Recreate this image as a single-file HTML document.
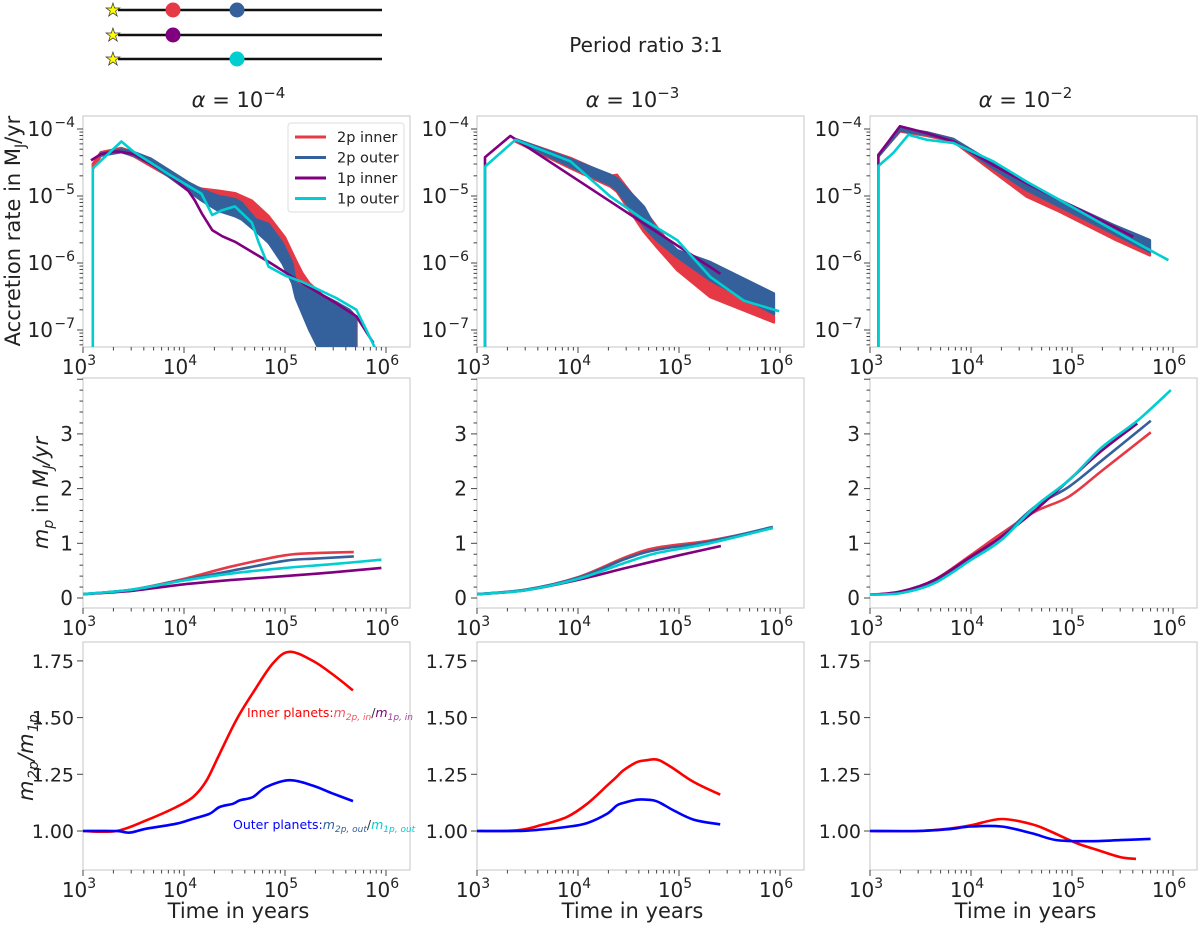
<!DOCTYPE html>
<html><head><meta charset="utf-8"><style>
html,body{margin:0;padding:0;background:#fff;}
svg{display:block;font-family:"DejaVu Sans","Liberation Sans",sans-serif;}
</style></head><body>
<svg id="fig" width="1200" height="925" viewBox="0 0 1200 925" xmlns="http://www.w3.org/2000/svg">
<g>
<line x1="118" y1="10" x2="382" y2="10" stroke="#111" stroke-width="2.5"/>
<line x1="118" y1="35" x2="382" y2="35" stroke="#111" stroke-width="2.5"/>
<line x1="118" y1="59" x2="382" y2="59" stroke="#111" stroke-width="2.5"/>
<text x="113" y="16" font-size="18" text-anchor="middle" fill="#ff0" stroke="#333" stroke-width="0.7">★</text>
<text x="113" y="41" font-size="18" text-anchor="middle" fill="#ff0" stroke="#333" stroke-width="0.7">★</text>
<text x="113" y="65" font-size="18" text-anchor="middle" fill="#ff0" stroke="#333" stroke-width="0.7">★</text>
<circle cx="173" cy="10" r="7.5" fill="#e63946"/>
<circle cx="237" cy="10" r="7.5" fill="#34619b"/>
<circle cx="173" cy="35" r="7.5" fill="#800080"/>
<circle cx="237" cy="59" r="7.5" fill="#00ced1"/>
</g>
<text x="646" y="52" font-size="20" text-anchor="middle" fill="#222">Period ratio 3:1</text>
<g transform="translate(33,756) rotate(-90)" fill="#222" font-style="italic">
<text x="-45" y="0" font-size="21">m</text>
<text x="-23" y="5" font-size="14">2p</text>
<text x="-5" y="0" font-size="21">/m</text>
<text x="24" y="5" font-size="14">1p</text>
</g>
</svg>
<script>
// ---- data: row 1 accretion rate (M_J/yr) ----
const a4PurpleT=[1200,1500,2000,2300,3200,6900,11000,12800,15000,19000,24000,32000,69000,149000,321000,509000,750000];
const a4PurpleV=[3.4e-5,4.2e-5,4.6e-5,4.6e-5,4.2e-5,2.15e-5,1.2e-5,8.6e-6,5.5e-6,3.1e-6,2.5e-6,2.07e-6,1.04e-6,5e-7,2.5e-7,1.6e-7,6.4e-8];
const a4CyanT=[1250,1250,2400,3210,6920,14900,19000,23600,32000,47000,55000,69000,100000,149000,321000,509000,800000];
const a4CyanV=[4e-8,2.6e-5,6.5e-5,4.5e-5,2.15e-5,1.08e-5,5.2e-6,6.1e-6,7e-6,4e-6,2e-6,8.8e-7,6.5e-7,5.2e-7,3e-7,2e-7,5e-8];
const a4RedT=[1250,1500,2400,3200,6900,11000,15000,22000,32000,47000,69000,100000,128000,149000,174000,236000,320000,510000];
const a4RedHi=[3e-5,4.5e-5,5.2e-5,4.5e-5,2.4e-5,1.5e-5,1.28e-5,1.2e-5,1.1e-5,8.5e-6,5e-6,2.4e-6,1.1e-6,7e-7,5e-7,3.3e-7,2.5e-7,1.5e-7];
const a4RedLo=[2.5e-5,4e-5,4.6e-5,3.9e-5,2e-5,1.2e-5,9e-6,7e-6,6e-6,4e-6,2e-6,1e-6,5e-7,4e-7,2e-7,1.2e-7,6e-8,4e-8];
const a4BlueT=[1500,2400,3200,4700,6900,11000,15000,22000,32000,37000,51000,69000,94000,118000,128000,174000,236000,321000,436000,500000];
const a4BlueHi=[4.3e-5,5e-5,4.5e-5,3.6e-5,2.5e-5,1.6e-5,1.25e-5,1e-5,9e-6,8e-6,4.5e-6,3.8e-6,2e-6,1e-6,5e-7,4e-7,3.3e-7,2.6e-7,2e-7,1.6e-7];
const a4BlueLo=[4e-5,4.5e-5,4e-5,3e-5,2e-5,1.2e-5,8.5e-6,6e-6,5e-6,4.5e-6,3e-6,2e-6,1e-6,5e-7,3e-7,1e-7,4e-8,4e-8,4e-8,4e-8];

const a3PurpleT=[1200,1200,2140,257000];
const a3PurpleV=[4e-8,3.8e-5,7.9e-5,6.9e-7];
const a3CyanT=[1200,1200,2400,8400,21000,45000,96000,204000,437000,980000];
const a3CyanV=[4e-8,2.75e-5,6.9e-5,3.3e-5,9.8e-6,4.4e-6,2.2e-6,6.2e-7,2.75e-7,1.9e-7];
const a3BandT=[2400,8400,21000,24300,45000,60000,96000,204000,870000];
const a3BlueHi=[7.1e-5,3.55e-5,2.07e-5,1.84e-5,6.9e-6,3.1e-6,1.55e-6,1.03e-6,3.5e-7];
const a3BlueLo=[6.8e-5,2.75e-5,1.46e-5,1.23e-5,3.5e-6,2.2e-6,1.23e-6,5.5e-7,1.74e-7];
const a3RedHi=[7.1e-5,3.7e-5,2.0e-5,2.07e-5,6.2e-6,3.5e-6,1.4e-6,6.1e-7,2.07e-7];
const a3RedLo=[6.5e-5,2.6e-5,1.38e-5,1.16e-5,2.9e-6,1.74e-6,7.8e-7,3.1e-7,1.3e-7];

const a2PurpleT=[1210,1210,1980,3640,6680,16600,35500,76000,257000,404000];
const a2PurpleV=[4e-8,4.1e-5,1.1e-4,8.7e-5,6.5e-5,2.9e-5,1.55e-5,8.7e-6,3.5e-6,2.45e-6];
const a2CyanT=[1210,1210,1700,2400,3640,6680,16600,35500,76000,257000,900000];
const a2CyanV=[4e-8,2.8e-5,4.4e-5,8.2e-5,6.9e-5,6.2e-5,3.3e-5,1.64e-5,8.7e-6,3.1e-6,1.1e-6];
const a2BandT=[1210,1980,3640,6680,16600,35500,76000,257000,590000];
const a2RedHi=[4.1e-5,1.03e-4,8.9e-5,7.1e-5,2.75e-5,1.3e-5,6.9e-6,2.75e-6,1.64e-6];
const a2RedLo=[3.9e-5,9.2e-5,7.9e-5,6.5e-5,2.3e-5,9.8e-6,5.8e-6,2.3e-6,1.3e-6];
const a2BlueHi=[4.1e-5,1.03e-4,8.9e-5,7.1e-5,3.1e-5,1.46e-5,8.7e-6,3.7e-6,2.2e-6];
const a2BlueLo=[3.9e-5,9.5e-5,8.2e-5,6.7e-5,2.6e-5,1.23e-5,6.9e-6,2.75e-6,1.46e-6];

// ---- data: row 2 planet mass ----
const m4T=[1000,3000,10000,30000,100000,200000,480000];
const m4Red=[0.07,0.15,0.35,0.58,0.78,0.82,0.84];
const m4Blue=[0.07,0.15,0.33,0.5,0.68,0.72,0.76];
const m4T1=[1000,3000,10000,30000,100000,300000,900000];
const m4Cyan=[0.07,0.15,0.32,0.45,0.55,0.62,0.7];
const m4Purple=[0.07,0.13,0.25,0.33,0.4,0.47,0.55];
const m3T=[1000,3000,10000,30000,60000,200000,850000];
const m3Red=[0.07,0.15,0.38,0.75,0.92,1.05,1.28];
const m3Blue=[0.07,0.15,0.37,0.72,0.88,1.03,1.3];
const m3Cyan=[0.07,0.14,0.35,0.65,0.82,1.0,1.28];
const m3PurpleT=[1000,3000,10000,30000,100000,260000];
const m3Purple=[0.07,0.14,0.33,0.55,0.78,0.95];
const m2CyanT=[1000,2020,4340,10060,20000,43000,92500,199000,443000,953000];
const m2Cyan=[0.06,0.09,0.27,0.7,1.06,1.67,2.15,2.76,3.24,3.8];
const m2PurpleT=[1000,2020,4340,10060,20000,43000,92500,199000,443000];
const m2Purple=[0.06,0.12,0.33,0.76,1.12,1.6,2.15,2.7,3.19];
const m2T=[1000,2020,4340,10060,20000,43000,92500,199000,603000];
const m2Blue=[0.06,0.11,0.31,0.74,1.12,1.67,2.03,2.52,3.24];
const m2Red=[0.06,0.11,0.33,0.79,1.18,1.58,1.85,2.33,3.03];

// ---- data: row 3 mass ratio ----
const r4RedT=[1000,2140,4240,8400,12300,16600,22500,33000,48200,76000,111000,189000,298000,471000];
const r4Red=[1.0,1.0,1.047,1.106,1.15,1.22,1.34,1.49,1.61,1.74,1.79,1.75,1.69,1.62];
const r4BlueT=[1000,2140,2900,4240,8400,12300,17900,22500,30500,35600,48200,65300,111000,189000,298000,471000];
const r4Blue=[1.0,1.0,0.993,1.01,1.032,1.054,1.076,1.106,1.12,1.135,1.15,1.194,1.224,1.2,1.165,1.132];
const r3T=[1000,2490,4240,7780,12300,19400,24300,28300,38400,48200,56100,65300,88500,140000,256000];
const r3Red=[1.0,1.003,1.025,1.062,1.12,1.2,1.24,1.268,1.304,1.312,1.316,1.31,1.275,1.216,1.16];
const r3Blue=[1.0,1.0,1.006,1.018,1.035,1.076,1.113,1.124,1.138,1.138,1.135,1.124,1.091,1.05,1.029];
const r2RedT=[1000,3000,6000,10000,20000,40000,60000,110000,180000,300000,430000];
const r2Red=[1.0,1.0,1.01,1.025,1.053,1.03,1.0,0.947,0.916,0.885,0.877];
const r2BlueT=[1000,3000,6000,10000,20000,40000,70000,150000,300000,600000];
const r2Blue=[1.0,1.0,1.008,1.02,1.02,0.99,0.96,0.955,0.96,0.965];

const COLS=[83,477,870], PW=327, DEC=101;
const ROWS=[{top:116,h:231},{top:378,h:230},{top:642,h:228}];
const C={red:'#e63946',blue:'#34619b',purple:'#800080',cyan:'#00ced1',r3red:'#ff0000',r3blue:'#0000ff'};
const NS='http://www.w3.org/2000/svg';
const svg=document.getElementById('fig');
function mk(tag,attrs,parent){const e=document.createElementNS(NS,tag);for(const k in attrs)e.setAttribute(k,attrs[k]);(parent||svg).appendChild(e);return e;}
function xs(c,t){return COLS[c]+(Math.log10(t)-3)*DEC;}
function yr(r,v){if(r===0)return 129+(-4-Math.log10(v))*67;if(r===1)return 598-v*54.7;return 831-(v-1)*226.8;}
function pts(c,r,T,V){return T.map((t,i)=>xs(c,t).toFixed(1)+','+yr(r,V[i]).toFixed(1)).join(' ');}
function smooth(c,r,T,V){const P=T.map((t,i)=>[xs(c,t),yr(r,V[i])]);let d='M'+P[0][0].toFixed(1)+','+P[0][1].toFixed(1);
  if(r===0){for(let i=1;i<P.length;i++)d+=' L'+P[i][0].toFixed(1)+','+P[i][1].toFixed(1);return d;}
  for(let i=0;i<P.length-1;i++){const p0=P[i>0?i-1:i],p1=P[i],p2=P[i+1],p3=P[i+2<P.length?i+2:i+1];
    const c1=[p1[0]+(p2[0]-p0[0])/6,p1[1]+(p2[1]-p0[1])/6],c2=[p2[0]-(p3[0]-p1[0])/6,p2[1]-(p3[1]-p1[1])/6];
    d+=' C'+c1[0].toFixed(1)+','+c1[1].toFixed(1)+' '+c2[0].toFixed(1)+','+c2[1].toFixed(1)+' '+p2[0].toFixed(1)+','+p2[1].toFixed(1);}
  return d;}

const panels={};
for(let r=0;r<3;r++)for(let c=0;c<3;c++){
  const g=mk('g',{});
  
  
  const x0=COLS[c],y0=ROWS[r].top,h=ROWS[r].h;
  const cp=mk('clipPath',{id:'cp'+r+c},g);
  mk('rect',{x:x0,y:y0,width:PW,height:h},cp);
  const fr=mk('rect',{x:x0,y:y0,width:PW,height:h,fill:'#fff',stroke:'#cfcfcf','stroke-width':1.2},g);
  
  
  const plot=mk('g',{'clip-path':'url(#cp'+r+c+')'},g);
  
  
  panels[r+''+c]=plot;
  const yb=y0+h;
  for(let d=3;d<=6;d++){for(let m=1;m<10;m++){const t=m*Math.pow(10,d);const lx=Math.log10(t);if(lx>3+PW/DEC)break;const x=xs(c,t);
    mk('line',{x1:x,y1:yb,x2:x,y2:yb+(m===1?6:3.5),stroke:'#444','stroke-width':1},g);
    if(m===1){const tx=mk('text',{x:x-4,y:yb+27,'font-size':20,'text-anchor':'middle',fill:'#222'},g);
      
      
      tx.textContent='10';const s=mk('tspan',{dy:-9,'font-size':14},tx);s.textContent=String(d);}
    if(d===6)break;}}
  if(r===0){for(let d=-8;d<=-4;d++)for(let m=1;m<10;m++){const v=m*Math.pow(10,d);const y=yr(0,v);if(y<y0||y>yb)continue;
    mk('line',{x1:x0,y1:y,x2:x0-(m===1?6:3.5),y2:y,stroke:'#444','stroke-width':1},g);
    if(m===1){const tx=mk('text',{x:x0-30,y:y+7,'font-size':20,'text-anchor':'end',fill:'#222'},g);
      
      
      tx.textContent='10';const s=mk('tspan',{x:x0-8,dy:-9,'font-size':14,'text-anchor':'end'},tx);s.textContent='\u2212'+(-d);}}}
  if(r===1){for(let k=0;k<=20;k++){const v=k*0.2;const y=yr(1,v);if(y<y0)break;const maj=k%5===0;
    mk('line',{x1:x0,y1:y,x2:x0-(maj?6:3.5),y2:y,stroke:'#444','stroke-width':1},g);
    if(maj&&v<=3){const tx=mk('text',{x:x0-10,y:y+7,'font-size':20,'text-anchor':'end',fill:'#222'},g);
      
      
      tx.textContent=String(v);}}}
  if(r===2){[1.0,1.25,1.5,1.75].forEach(v=>{const y=yr(2,v);
    mk('line',{x1:x0,y1:y,x2:x0-6,y2:y,stroke:'#444','stroke-width':1},g);
    const tx=mk('text',{x:x0-9,y:y+7,'font-size':19,'text-anchor':'end',fill:'#222'},g);
    
    
    tx.textContent=v.toFixed(2);});}
}
function line(key,c,r,T,V,col,name,w){const e=mk('path',{d:smooth(c,r,T,V),fill:'none',stroke:col,'stroke-width':w||2.6,'stroke-linejoin':'round'},panels[key]);
  
  }
function band(key,c,r,T,Hi,Lo,col,name){const p=pts(c,r,T,Hi)+' '+pts(c,r,T.slice().reverse(),Lo.slice().reverse());
  const e=mk('polygon',{points:p,fill:col,stroke:col,'stroke-width':2.5,'stroke-linejoin':'round'},panels[key]);
  
  }
band('00',0,0,a4RedT,a4RedHi,a4RedLo,C.red,'series-2p-inner');
band('00',0,0,a4BlueT,a4BlueHi,a4BlueLo,C.blue,'series-2p-outer');
line('00',0,0,a4PurpleT,a4PurpleV,C.purple,'series-1p-inner');
line('00',0,0,a4CyanT,a4CyanV,C.cyan,'series-1p-outer');
band('01',1,0,a3BandT,a3RedHi,a3RedLo,C.red,'series-2p-inner');
band('01',1,0,a3BandT,a3BlueHi,a3BlueLo,C.blue,'series-2p-outer');
line('01',1,0,a3PurpleT,a3PurpleV,C.purple,'series-1p-inner');
line('01',1,0,a3CyanT,a3CyanV,C.cyan,'series-1p-outer');
band('02',2,0,a2BandT,a2RedHi,a2RedLo,C.red,'series-2p-inner');
band('02',2,0,a2BandT,a2BlueHi,a2BlueLo,C.blue,'series-2p-outer');
line('02',2,0,a2PurpleT,a2PurpleV,C.purple,'series-1p-inner');
line('02',2,0,a2CyanT,a2CyanV,C.cyan,'series-1p-outer');
line('10',0,1,m4T,m4Red,C.red,'mass-2p-inner');line('10',0,1,m4T,m4Blue,C.blue,'mass-2p-outer');
line('10',0,1,m4T1,m4Purple,C.purple,'mass-1p-inner');line('10',0,1,m4T1,m4Cyan,C.cyan,'mass-1p-outer');
line('11',1,1,m3T,m3Red,C.red,'mass-2p-inner');line('11',1,1,m3T,m3Blue,C.blue,'mass-2p-outer');
line('11',1,1,m3PurpleT,m3Purple,C.purple,'mass-1p-inner');line('11',1,1,m3T,m3Cyan,C.cyan,'mass-1p-outer');
line('12',2,1,m2T,m2Red,C.red,'mass-2p-inner');line('12',2,1,m2T,m2Blue,C.blue,'mass-2p-outer');
line('12',2,1,m2PurpleT,m2Purple,C.purple,'mass-1p-inner');line('12',2,1,m2CyanT,m2Cyan,C.cyan,'mass-1p-outer');
line('20',0,2,r4RedT,r4Red,C.r3red,'ratio-inner');line('20',0,2,r4BlueT,r4Blue,C.r3blue,'ratio-outer');
line('21',1,2,r3T,r3Red,C.r3red,'ratio-inner');line('21',1,2,r3T,r3Blue,C.r3blue,'ratio-outer');
line('22',2,2,r2RedT,r2Red,C.r3red,'ratio-inner');line('22',2,2,r2BlueT,r2Blue,C.r3blue,'ratio-outer');

const alphas=['\u22124','\u22123','\u22122'];
for(let c=0;c<3;c++){const tx=mk('text',{x:COLS[c]+PW/2-8,y:107,'font-size':21,'text-anchor':'middle',fill:'#222'});
  
  
  const a=mk('tspan',{'font-style':'italic'},tx);a.textContent='\u03b1';
  const b=mk('tspan',{},tx);b.textContent=' = 10';
  const s=mk('tspan',{dy:-9,'font-size':15},tx);s.textContent=alphas[c];
  const xl=mk('text',{x:COLS[c]+PW/2-8,y:918,'font-size':21,'text-anchor':'middle',fill:'#222'});
  
  
  xl.textContent='Time in years';}
let yt=mk('text',{x:0,y:0,'font-size':21,'text-anchor':'middle',fill:'#222',transform:'translate(20,231) rotate(-90)'});


yt.textContent='Accretion rate in M';let sb=mk('tspan',{dy:5,'font-size':14},yt);sb.textContent='J';sb=mk('tspan',{dy:-5},yt);sb.textContent='/yr';
yt=mk('text',{x:0,y:0,'font-size':21,'text-anchor':'middle',fill:'#222',transform:'translate(48,493) rotate(-90)'});


sb=mk('tspan',{'font-style':'italic'},yt);sb.textContent='m';sb=mk('tspan',{'font-style':'italic',dy:5,'font-size':14},yt);sb.textContent='p';
sb=mk('tspan',{dy:-5},yt);sb.textContent=' in ';sb=mk('tspan',{'font-style':'italic'},yt);sb.textContent='M';
sb=mk('tspan',{'font-style':'italic',dy:5,'font-size':14},yt);sb.textContent='J';sb=mk('tspan',{'font-style':'italic',dy:-5},yt);sb.textContent='/yr';

const lg=mk('g',{});


mk('rect',{x:288,y:123,width:116,height:89,rx:3,fill:'#fff',stroke:'#ddd'},lg);
const legNames=['2p inner','2p outer','1p inner','1p outer'];
const legCols=[C.red,C.blue,C.purple,C.cyan];
legNames.forEach((n,i)=>{const y=137+i*20.5;
  const e=mk('g',{},lg);
  
  
  mk('line',{x1:295,y1:y,x2:326,y2:y,stroke:legCols[i],'stroke-width':3},e);
  const t=mk('text',{x:337,y:y+5,'font-size':14.5,fill:'#222'},e);t.textContent=n;});

let an=mk('text',{x:247,y:717,'font-size':12.5,fill:'#ff0000'});


an.textContent='Inner planets:';
sb=mk('tspan',{'font-style':'italic',fill:'#f0555f'},an);sb.textContent='m';sb=mk('tspan',{'font-style':'italic',fill:'#f0555f','font-size':9,dy:3},an);sb.textContent='2p, in';
sb=mk('tspan',{fill:'#333',dy:-3},an);sb.textContent='/';sb=mk('tspan',{'font-style':'italic',fill:'#800080'},an);sb.textContent='m';
sb=mk('tspan',{'font-style':'italic',fill:'#a040a0','font-size':9,dy:3},an);sb.textContent='1p, in';
an=mk('text',{x:233,y:829,'font-size':12.5,fill:'#0000ff'});


an.textContent='Outer planets:';
sb=mk('tspan',{'font-style':'italic',fill:'#34619b'},an);sb.textContent='m';sb=mk('tspan',{'font-style':'italic',fill:'#34619b','font-size':9,dy:3},an);sb.textContent='2p, out';
sb=mk('tspan',{fill:'#333',dy:-3},an);sb.textContent='/';sb=mk('tspan',{'font-style':'italic',fill:'#00ced1'},an);sb.textContent='m';
sb=mk('tspan',{'font-style':'italic',fill:'#00ced1','font-size':9,dy:3},an);sb.textContent='1p, out';
</script>
</body></html>
